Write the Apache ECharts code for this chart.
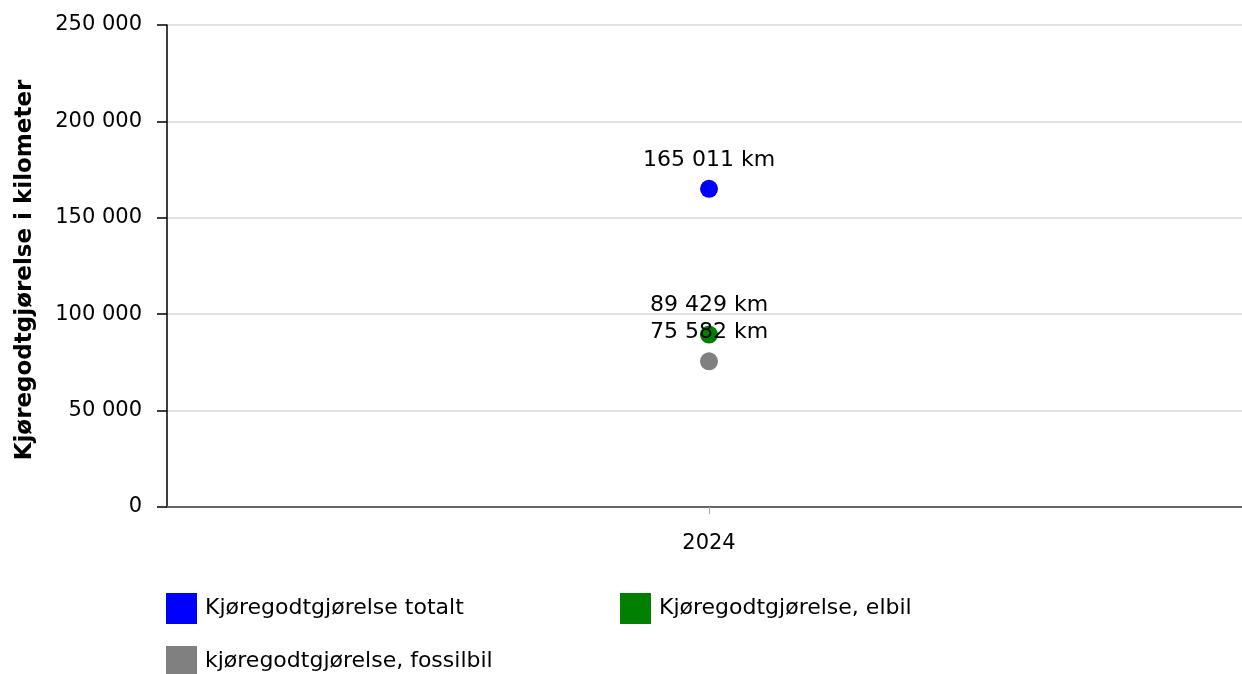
<!DOCTYPE html>
<html>
<head>
<meta charset="utf-8">
<script src="https://cdn.jsdelivr.net/npm/echarts@6/dist/echarts.min.js"></script>
<style>
html,body{margin:0;padding:0;background:#fff;overflow:hidden;width:1242px;height:674px;}
#chart{width:1251px;height:674px;}
</style>
</head>
<body>
<div id="chart"></div>
<script>
const categories = ["2024"];
const seriesNames = ["Kjøregodtgjørelse totalt", "Kjøregodtgjørelse, elbil", "kjøregodtgjørelse, fossilbil"];
const totalt = [165011];
const elbil = [89429];
const fossilbil = [75582];
const yTicks = [0, 50000, 100000, 150000, 200000, 250000];
const colors = ["#0000ff", "#008000", "#808080"];

function fmt(v) {
  return String(Math.round(v)).replace(/\B(?=(\d{3})+(?!\d))/g, " ");
}
const FONT = "DejaVu Sans";
const chart = echarts.init(document.getElementById('chart'));
const dataSets = [totalt, elbil, fossilbil];
const series = seriesNames.map((n, i) => ({
  name: n,
  type: 'scatter',
  data: dataSets[i],
  symbol: 'circle',
  symbolSize: 18,
  itemStyle: { color: colors[i], opacity: 1 },
  label: {
    show: true,
    position: 'top',
    distance: 9,
    color: '#000',
    fontFamily: FONT,
    fontSize: 22,
    formatter: p => fmt(p.value) + ' km'
  },
  emphasis: { disabled: true },
  z: 2 + i
}));
const legendPos = [[166, 593], [620, 593], [166, 646]];
chart.setOption({
  animation: false,
  backgroundColor: '#fff',
  textStyle: { fontFamily: FONT },
  grid: { left: 167, right: 0, top: 25, bottom: 167, containLabel: false },
  legend: seriesNames.map((n, i) => ({
    data: [{ name: n, icon: 'rect' }],
    left: legendPos[i][0],
    top: legendPos[i][1],
    itemWidth: 31,
    itemHeight: 31,
    itemGap: 0,
    padding: 0,
    selectedMode: false,
    textStyle: { fontFamily: FONT, fontSize: 22, color: '#000', padding: [0, 0, 0, 3] }
  })),
  xAxis: {
    type: 'category',
    data: categories,
    boundaryGap: true,
    axisLine: { show: true, lineStyle: { color: '#666', width: 2 } },
    axisTick: { show: true, alignWithLabel: true, length: 7, lineStyle: { color: '#aaa' } },
    axisLabel: { color: '#000', fontFamily: FONT, fontSize: 21, margin: 26 },
    splitLine: { show: false }
  },
  yAxis: {
    type: 'value',
    min: yTicks[0],
    max: yTicks[yTicks.length - 1],
    interval: yTicks[1] - yTicks[0],
    name: 'Kjøregodtgjørelse i kilometer',
    nameLocation: 'middle',
    nameGap: 130,
    nameRotate: 90,
    nameTextStyle: { fontFamily: FONT, fontSize: 23, fontWeight: 'bold', color: '#000', padding: [0, 8, 0, 0] },
    axisLine: { show: true, lineStyle: { color: '#000', width: 1.5 } },
    axisTick: { show: true, length: 10, lineStyle: { color: '#000', width: 1.5 } },
    axisLabel: { color: '#000', fontFamily: FONT, fontSize: 21, margin: 25, padding: [3, 0, 0, 0], formatter: v => fmt(v) },
    splitLine: { show: true, lineStyle: { color: '#d9d9d9', width: 1.5 } }
  },
  series: series
});
</script>
</body>
</html>
